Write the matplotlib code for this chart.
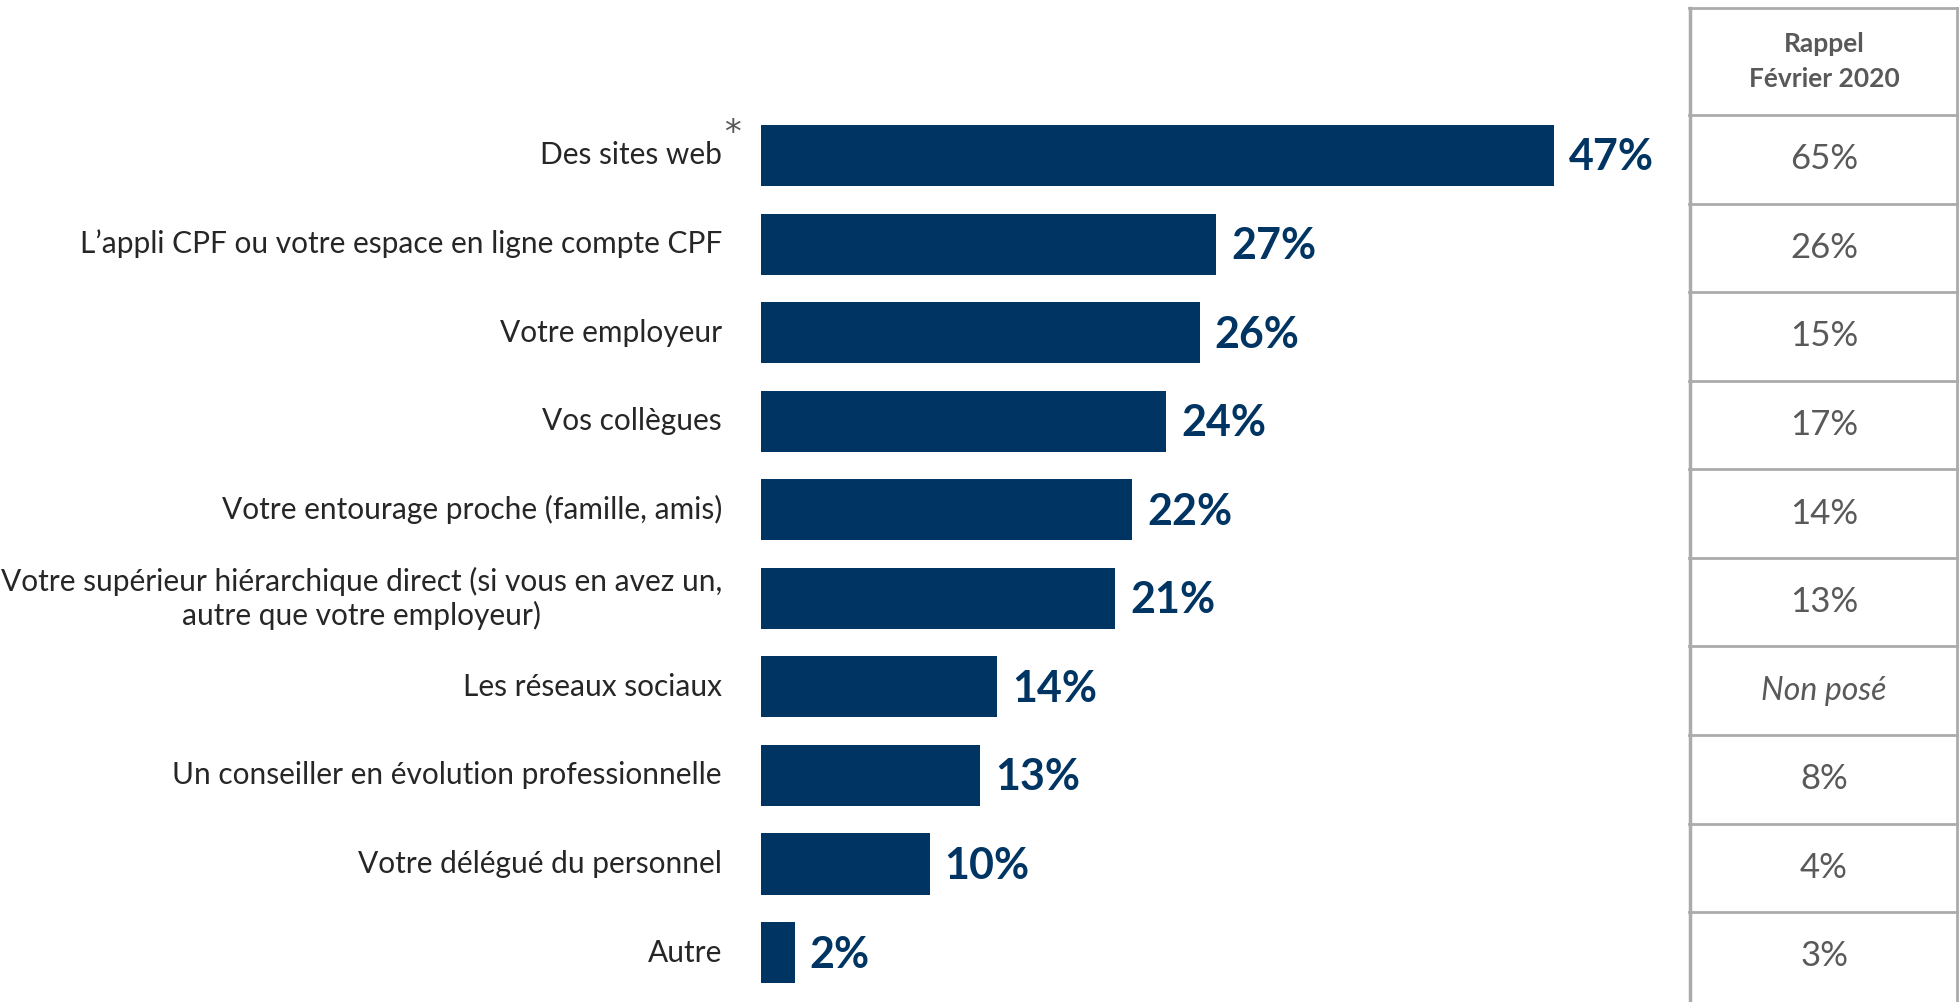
import matplotlib.pyplot as plt

plt.rcParams["font.family"] = ["Lato", "DejaVu Sans"]

categories = [
    "Des sites web",
    "L\u2019appli CPF ou votre espace en ligne compte CPF",
    "Votre employeur",
    "Vos collègues",
    "Votre entourage proche (famille, amis)",
    "Votre supérieur hiérarchique direct (si vous en avez un,\nautre que votre employeur)",
    "Les réseaux sociaux",
    "Un conseiller en évolution professionnelle",
    "Votre délégué du personnel",
    "Autre",
]
values = [47, 27, 26, 24, 22, 21, 14, 13, 10, 2]
rappel_2020 = ["65%", "26%", "15%", "17%", "14%", "13%", "Non posé", "8%", "4%", "3%"]
header = "Rappel\nFévrier 2020"

NAVY = "#003462"
TEXT = "#262626"
GREY = "#595959"
LINE = "#ABABAB"

W, H = 1959, 1002
fig = plt.figure(figsize=(W / 100, H / 100), dpi=100)

# layout in pixels (measured on the reference)
row_px = 88.56       # distance between bars
first_px = 155.5     # centre of first bar, from the top
n = len(values)
y_top = -first_px / row_px
y_bot = (n - 1) + (H - (first_px + (n - 1) * row_px)) / row_px
px_per_pct = 16.87
bar_left, table_left = 761, 1689

ax = fig.add_axes([bar_left / W, 0, (table_left - bar_left) / W, 1])
ax.barh(range(n), values, height=0.69, color=NAVY)
ax.set_xlim(0, (table_left - bar_left) / px_per_pct)
ax.set_ylim(y_bot, y_top)
ax.axis("off")

pt = 0.72  # points per pixel at dpi 100
for i, (cat, v) in enumerate(zip(categories, values)):
    ax.annotate(cat, xy=(0, i), xytext=(-39 * pt, 0), textcoords="offset points",
                ha="right", va="center", multialignment="center",
                fontsize=21.5, color=TEXT, linespacing=1.2, annotation_clip=False)
    ax.annotate(f"{v}%", xy=(v, i), xytext=(15 * pt, -2 * pt), textcoords="offset points",
                ha="left", va="center", fontsize=31, fontweight="bold", color=NAVY,
                annotation_clip=False)

# asterisk on the first label
ax.annotate("*", xy=(0, 0), xytext=(-37 * pt, 22 * pt), textcoords="offset points",
            ha="left", va="center", fontsize=24, color=GREY, family="DejaVu Sans",
            annotation_clip=False)

# table on the right
tax = fig.add_axes([table_left / W, 0, (W - table_left) / W, 1])
tax.set_xlim(0, 1)
tax.set_ylim(y_bot, y_top)
tax.axis("off")

top = y_top + 8 / row_px
bounds = [i - 0.457 for i in range(n)]
tax.plot([0.004, 0.004], [top, y_bot], color=LINE, lw=2.5, clip_on=False)
tax.plot([0.994, 0.994], [top, y_bot], color=LINE, lw=2, clip_on=False)
tax.plot([0, 1], [top, top], color=LINE, lw=2, clip_on=False)
for b in bounds:
    tax.plot([0, 1], [b, b], color=LINE, lw=2, clip_on=False)

tax.text(0.5, (top + bounds[0]) / 2, header, ha="center", va="center",
         fontsize=19, fontweight="bold", color=GREY, linespacing=1.55)
for i, r in enumerate(rappel_2020):
    italic = r == "Non posé"
    tax.text(0.5, i + 0.043, r, ha="center", va="center", fontsize=23 if italic else 25,
             color=GREY, style="italic" if italic else "normal")

fig.savefig("out.png", dpi=100)
